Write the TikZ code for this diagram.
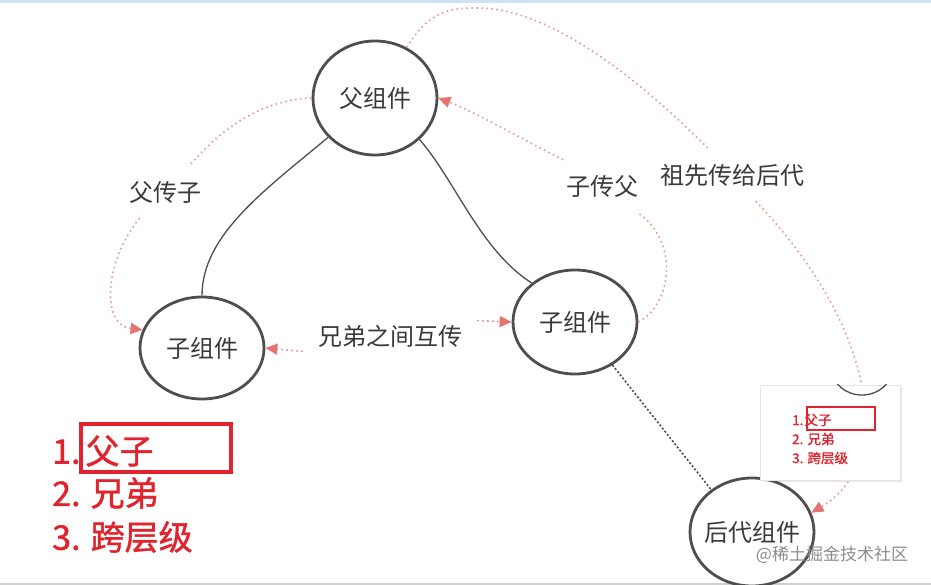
\documentclass[tikz,border=0pt]{standalone}
\usepackage{fontspec}
\setmainfont{Noto Sans CJK SC}
\newfontfamily\heavyfont[FakeBold=1.2]{Noto Sans CJK SC}
\usepackage{xcolor}
\usetikzlibrary{shapes.geometric,arrows.meta,shadows}
\definecolor{ringgray}{HTML}{4E4E4E}
\definecolor{inkgray}{HTML}{3A3A3A}
\definecolor{flowpink}{HTML}{EA9A96}
\definecolor{tippink}{HTML}{E57471}
\definecolor{notered}{HTML}{E1232D}
\definecolor{topblue}{HTML}{CFE2F3}

\begin{document}
\begin{tikzpicture}[x=1pt,y=-1pt,
  comp/.style={ellipse,draw=ringgray,line width=2.8pt,fill=white,inner sep=0pt,
    minimum width=124pt,text=inkgray,font=\fontsize{24}{28}\selectfont},
  tag/.style={inner sep=15pt,text=inkgray,font=\fontsize{24}{28}\selectfont},
  flow/.style={flowpink,line width=1.6pt,dash pattern=on 1.6pt off 3.4pt},
  tip/.style={-{Triangle[length=12pt,width=11pt,color=tippink]}},
  bigred/.style={anchor=west,inner sep=0pt,text=notered,font=\heavyfont\fontsize{34}{40}\selectfont},
  smallred/.style={anchor=west,inner sep=0pt,text=notered,font=\heavyfont\fontsize{13.5}{15}\selectfont}]
\useasboundingbox (0,0) rectangle (931,585);
\fill[white] (0,0) rectangle (931,585);
\draw[color=topblue,line width=3pt] (0,1.5) -- (931,1.5);
\draw[color=black!18,line width=2pt] (0,584) -- (931,584);

% components
\node[comp,minimum height=114pt] (p) at (375,98) {父组件};
\node[comp,minimum height=102pt] (c1) at (202,348) {子组件};
\node[comp,minimum height=104pt] (c2) at (575,322) {子组件};
\node[comp,minimum height=108pt,inner xsep=-13pt] (d) at (752,532) {后代组件};

% labels
\node[tag] (lpc) at (165,192) {父传子};
\node[tag] (lcp) at (602,186) {子传父};
\node[tag] (lsib) at (390,336) {兄弟之间互传};
\node[tag] (lanc) at (732,175) {祖先传给后代};
\coordinate (crest) at (478,8);

% tree lines
\draw[ringgray,line width=1.3pt] (p.220) .. controls (265,190) and (202,235) .. (c1.north);
\draw[ringgray,line width=1.3pt] (p.317) .. controls (455,180) and (480,250) .. (c2.138);
\draw[ringgray,line width=1.6pt,dash pattern=on 2pt off 2pt] (c2.311) -- (d.134);

% flows
\draw[flow] (p.west) .. controls (260,100) and (220,130) .. (lpc.47);
\draw[flow,tip] (lpc.226) .. controls (105,260) and (100,325) .. (c1.163);
\draw[flow] (c2.east) .. controls (672,305) and (680,240) .. (lcp.323);
\draw[flow,tip] (lcp.146) .. controls (520,138) and (475,112) .. (p.east);
\draw[flow,tip] (lsib.190) -- (c1.east);
\draw[flow,tip] (lsib.10) -- (c2.west);
\draw[flow] (p.58) .. controls (430,10) and (450,8) .. (crest)
  .. controls (550,8) and (640,80) .. (lanc.132);
\draw[flow,tip] (lanc.312) .. controls (870,320) and (900,460) .. (d.18);

% pasted snippet
\node[fill=white,draw=black!10,line width=1pt,minimum width=140pt,minimum height=95pt,inner sep=0pt,
  drop shadow={shadow xshift=2pt,shadow yshift=-2pt,opacity=0.18}] (inset) at (830,432.5) {};
\begin{scope}
  \clip (inset.north west) rectangle (inset.south east);
  \draw[ringgray,line width=1.3pt] (862,369) ellipse [x radius=30pt,y radius=26pt];
\end{scope}
\node[smallred] (m1) at (792,420) {1.\hspace{1pt}父子};
\node[draw=notered,line width=1.8pt,minimum width=68pt,minimum height=23pt] (mbox) at (841,418.5) {};
\node[smallred] (m2) at (792,439) {2. 兄弟};
\node[smallred] (m3) at (792,458) {3. 跨层级};

% summary
\node[bigred] (n1) at (52,451) {1.\hspace{5pt}父子};
\node[draw=notered,line width=4pt,minimum width=150pt,minimum height=48pt] (box1) at (156,448) {};
\node[bigred] (n2) at (52,493) {2. 兄弟};
\node[bigred] (n3) at (52,537) {3. 跨层级};

\node[text=black!45,font=\fontsize{17}{20}\selectfont] (mark) at (832,555) {@稀土掘金技术社区};
\end{tikzpicture}
\end{document}
